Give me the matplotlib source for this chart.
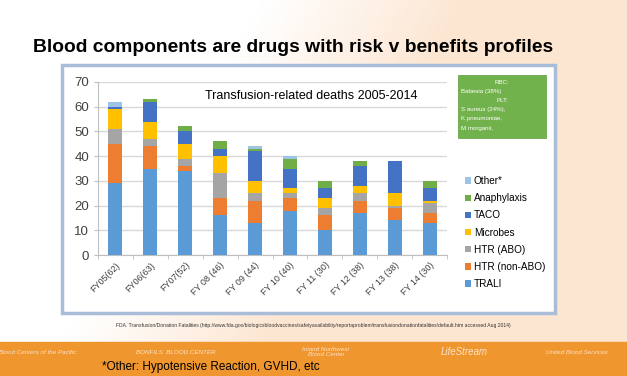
import numpy as np
import matplotlib.pyplot as plt
from matplotlib.patches import Rectangle

# --- data ---
years = ["FY05(62)", "FY06(63)", "FY07(52)", "FY 08 (46)", "FY 09 (44)",
         "FY 10 (40)", "FY 11 (30)", "FY 12 (38)", "FY 13 (38)", "FY 14 (30)"]
trali     = [29, 35, 34, 16, 13, 18, 10, 17, 14, 13]
htr_nonabo = [16, 9, 2, 7, 9, 5, 6, 5, 5, 4]
htr_abo   = [6, 3, 3, 10, 3, 2, 3, 3, 1, 4]
microbes  = [8, 7, 6, 7, 5, 2, 4, 3, 5, 1]
taco      = [1, 8, 5, 3, 12, 8, 4, 8, 13, 5]
anaphyl   = [0, 1, 2, 3, 1, 4, 3, 2, 0, 3]
other     = [2, 0, 0, 0, 1, 1, 0, 0, 0, 0]

series = [("TRALI", trali, "#5B9BD5"),
          ("HTR (non-ABO)", htr_nonabo, "#ED7D31"),
          ("HTR (ABO)", htr_abo, "#A5A5A5"),
          ("Microbes", microbes, "#FFC000"),
          ("TACO", taco, "#4472C4"),
          ("Anaphylaxis", anaphyl, "#70AD47"),
          ("Other*", other, "#9DC3E6")]

fig = plt.figure(figsize=(6.27, 3.76), dpi=100)
plt.rcParams["font.family"] = ["Liberation Sans", "DejaVu Sans"]

# slide background: white on the left fading into peach on the right
bg = fig.add_axes([0, 0, 1, 1], zorder=-10)
gx = np.linspace(0, 1, 300)
gy = np.linspace(0, 1, 200)
X, Y = np.meshgrid(gx, gy)
t = np.clip((X + 0.35 * Y - 0.42) * 3.0, 0, 1)
white = np.array([1.0, 1.0, 1.0])
peach = np.array([0.99, 0.90, 0.82])
img = white * (1 - t[..., None]) + peach * t[..., None]
bg.imshow(img, extent=[0, 1, 0, 1], origin="upper", aspect="auto")
bg.set_xlim(0, 1); bg.set_ylim(0, 1); bg.axis("off")

# orange footer band
bg.add_patch(Rectangle((0, 0), 1, 34 / 376, color="#F0962E", zorder=2))

# chart panel
bg.add_patch(Rectangle((62 / 627, 63 / 376), 493 / 627, 248 / 376,
                       facecolor="white", edgecolor="#A9BCD8", lw=2.5, zorder=3))

fig.text(0.053, 0.875, "Blood components are drugs with risk v benefits profiles",
         fontsize=13.9, fontweight="bold", color="black", va="center")

ax = fig.add_axes([98 / 627, 121 / 376, 349 / 627, 173 / 376], zorder=5)
ax.patch.set_alpha(0)
x = np.arange(len(years))
bottom = np.zeros(len(years))
for name, vals, col in series:
    ax.bar(x, vals, 0.4, bottom=bottom, color=col, label=name, zorder=3)
    bottom += np.array(vals)

ax.set_xlim(-0.5, len(years) - 0.5)
ax.set_ylim(0, 70)
ax.set_yticks(range(0, 71, 10))
ax.grid(axis="y", color="#D9D9D9", lw=1, zorder=0)
ax.set_xticks(x)
ax.set_xticklabels(years, rotation=45, ha="right", rotation_mode="anchor",
                   fontsize=6.5, color="#404040")
ax.set_xticks(np.arange(-0.5, len(years)), minor=True)
ax.tick_params(axis="x", which="major", length=0, pad=4)
ax.tick_params(axis="x", which="minor", length=3, color="#BFBFBF")
ax.tick_params(axis="y", length=3, color="#BFBFBF", labelsize=9.5, colors="#404040")
for s in ["top", "right"]:
    ax.spines[s].set_visible(False)
ax.spines["left"].set_color("#BFBFBF")
ax.spines["bottom"].set_color("#BFBFBF")

ax.text(0.307, 0.92, "Transfusion-related deaths 2005-2014", transform=ax.transAxes,
        fontsize=9, va="center")

h, l = ax.get_legend_handles_labels()
fig.legend(h[::-1], l[::-1], loc="upper left", bbox_to_anchor=(461 / 627, 1 - 172 / 376),
           frameon=False, fontsize=7.2, handlelength=0.6, handleheight=0.6,
           handletextpad=0.3, labelspacing=0.72, borderaxespad=0)

# green callout box
bg.add_patch(Rectangle((458 / 627, 1 - 138 / 376), 88 / 627, 63 / 376,
                       facecolor="#72B24C", edgecolor="#5E9C3B", lw=0.5, zorder=6))
box_lines = ["RBC:", "Babesia (38%)", "PLT:", "S aureus (24%),", "K pneumoniae,", "M morganii,"]
box_ha = ["center", "left", "center", "left", "left", "left"]
for i, (ln, ha) in enumerate(zip(box_lines, box_ha)):
    xx = 502 / 627 if ha == "center" else 461 / 627
    fig.text(xx, 1 - (82 + i * 9.2) / 376, ln, fontsize=4.4, color="white",
             ha=ha, va="center", zorder=7)

fig.text(0.5, 1 - 325 / 376,
         "FDA. Transfusion/Donation Fatalities (http://www.fda.gov/biologicsbloodvaccines/"
         "safetyavailability/reportaproblem/transfusiondonationfatalities/default.htm accessed Aug 2014)",
         fontsize=3.6, ha="center", va="center", color="#333333")

# footer logos (as text)
logos = [(0.06, "Blood Centers of the Pacific"), (0.28, "BONFILS  BLOOD CENTER"),
         (0.52, "Inland Northwest\nBlood Center"), (0.74, "LifeStream"),
         (0.92, "United Blood Services")]
for xx, txt in logos:
    fig.text(xx, 1 - 352 / 376, txt, fontsize=4.5 if xx != 0.74 else 7,
             color="#FBE3C8", ha="center", va="center", style="italic", zorder=8)

fig.text(0.162, 1 - 367 / 376, "*Other: Hypotensive Reaction, GVHD, etc",
         fontsize=8.5, color="black", va="center", zorder=8)

fig.savefig("out.png", dpi=100)
